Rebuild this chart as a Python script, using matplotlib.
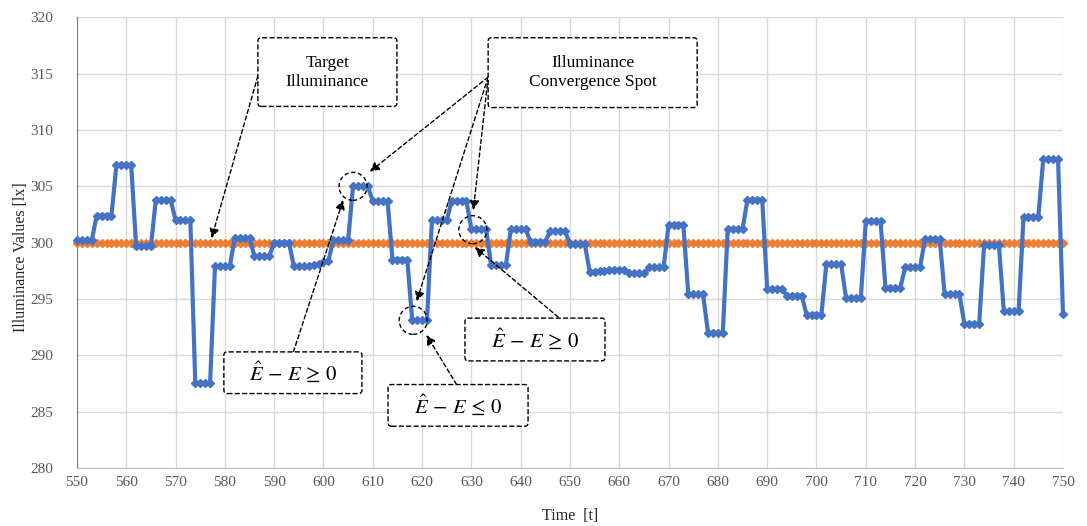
import numpy as np
import matplotlib
matplotlib.use("Agg")
import matplotlib.pyplot as plt
from matplotlib.patches import FancyBboxPatch, Ellipse

# ---------------- data ----------------
time = list(range(550, 751))
measured = [
    300.2, 300.2, 300.2, 300.2,   # 550
    302.4, 302.4, 302.4, 302.4,   # 554
    306.9, 306.9, 306.9, 306.9,   # 558
    299.7, 299.7, 299.7, 299.7,   # 562
    303.8, 303.8, 303.8, 303.8,   # 566
    302.0, 302.0, 302.0, 302.0,   # 570
    287.5, 287.5, 287.5, 287.5,   # 574
    297.9, 297.9, 297.9, 297.9,   # 578
    300.4, 300.4, 300.4, 300.4,   # 582
    298.8, 298.8, 298.8, 298.8,   # 586
    300.0, 300.0, 300.0, 300.0,   # 590
    297.9, 297.9, 297.9, 297.9,   # 594
    298.0, 298.1, 298.3, 298.4,   # 598
    300.2, 300.2, 300.2, 300.2,   # 602
    305.0, 305.0, 305.0, 305.0,   # 606
    303.7, 303.7, 303.7, 303.7,   # 610
    298.5, 298.5, 298.5, 298.5,   # 614
    293.1, 293.1, 293.1, 293.1,   # 618
    302.0, 302.0, 302.0, 302.0,   # 622
    303.7, 303.7, 303.7, 303.7,   # 626
    301.2, 301.2, 301.2, 301.2,   # 630
    298.0, 298.0, 298.0, 298.0,   # 634
    301.2, 301.2, 301.2, 301.2,   # 638
    300.1, 300.1, 300.1, 300.1,   # 642
    301.0, 301.0, 301.0, 301.0,   # 646
    299.9, 299.9, 299.9, 299.9,   # 650
    297.4, 297.4, 297.5, 297.5,   # 654
    297.6, 297.6, 297.6, 297.6,   # 658
    297.3, 297.3, 297.3, 297.3,   # 662
    297.8, 297.8, 297.8, 297.8,   # 666
    301.6, 301.6, 301.6, 301.6,   # 670
    295.4, 295.4, 295.4, 295.4,   # 674
    292.0, 292.0, 292.0, 292.0,   # 678
    301.2, 301.2, 301.2, 301.2,   # 682
    303.8, 303.8, 303.8, 303.8,   # 686
    295.9, 295.9, 295.9, 295.9,   # 690
    295.3, 295.3, 295.3, 295.3,   # 694
    293.6, 293.6, 293.6, 293.6,   # 698
    298.1, 298.1, 298.1, 298.1,   # 702
    295.1, 295.1, 295.1, 295.1,   # 706
    301.9, 301.9, 301.9, 301.9,   # 710
    296.0, 296.0, 296.0, 296.0,   # 714
    297.8, 297.8, 297.8, 297.8,   # 718
    300.3, 300.3, 300.3, 300.3,   # 722
    295.4, 295.4, 295.4, 295.4,   # 726
    292.8, 292.8, 292.8, 292.8,   # 730
    299.8, 299.8, 299.8, 299.8,   # 734
    293.9, 293.9, 293.9, 293.9,   # 738
    302.3, 302.3, 302.3, 302.3,   # 742
    307.4, 307.4, 307.4, 307.4,   # 746
    293.7,                        # 750
]
target = [300.0] * len(time)

x_ticks = list(range(550, 751, 10))
y_ticks = list(range(280, 321, 5))

x_label = "Time  [t]"
y_label = "Illuminance Values [lx]"

# ---------------- style ----------------
plt.rcParams['font.family'] = ['Liberation Serif', 'DejaVu Serif']
plt.rcParams['mathtext.fontset'] = 'stix'

BLUE = '#4472C4'
ORANGE = '#ED7D31'
GRID = '#D9D9D9'
TICK = '#595959'

fig = plt.figure(figsize=(10.87, 5.26), dpi=100)
ax = fig.add_axes([0.0708, 0.1105, 0.9071, 0.8563])

ax.plot(time, target, color=ORANGE, lw=2.4, marker='D', ms=4.5,
        mec=ORANGE, mfc=ORANGE, zorder=3, clip_on=False)
ax.plot(time, measured, color=BLUE, lw=3.0, marker='D', ms=4.3,
        mec=BLUE, mfc=BLUE, zorder=4, clip_on=False)

ax.set_xlim(550, 750)
ax.set_ylim(280, 320)
ax.set_xticks(x_ticks)
ax.set_yticks(y_ticks)
ax.grid(True, color=GRID, lw=1.0, zorder=0)
ax.set_axisbelow(True)
ax.tick_params(axis='both', length=0, labelsize=11, colors=TICK)
ax.tick_params(axis='y', pad=17)
ax.tick_params(axis='x', pad=6)
for s in ['top', 'right']:
    ax.spines[s].set_visible(False)
ax.spines['left'].set_color('#7F7F7F')
ax.spines['bottom'].set_color('#BFBFBF')

ax.set_xlabel(x_label, fontsize=11.5, color='#262626')
ax.set_ylabel(y_label, fontsize=11.5, color='#262626')
ax.xaxis.set_label_coords(0.5, -0.088)
ax.yaxis.set_label_coords(-0.049, 0.467)

# ---------------- annotations ----------------
asp = (986.0 / 200.0) / (450.4 / 40.0)  # px per x-unit / px per y-unit


def box(x0, x1, y0, y1, text, fs=12.5):
    p = FancyBboxPatch((x0, y0), x1 - x0, y1 - y0,
                       boxstyle='round,pad=0,rounding_size=0.7',
                       mutation_aspect=asp, fc='white', ec='black',
                       lw=1.0, ls='--', zorder=6)
    ax.add_patch(p)
    ax.text((x0 + x1) / 2, (y0 + y1) / 2, text, ha='center', va='center',
            fontsize=fs, zorder=7, linespacing=1.25)


def arrow(x0, y0, x1, y1):
    ax.annotate('', xy=(x1, y1), xytext=(x0, y0),
                arrowprops=dict(arrowstyle='-|>', ls=(0, (3, 2)), lw=1.0,
                                color='black', fc='black',
                                mutation_scale=14, shrinkA=0, shrinkB=0),
                zorder=5)


def circle(cx, cy):
    e = Ellipse((cx, cy), 28 / 4.93, 28 / 11.26, fill=False, ec='black',
                lw=1.0, ls=(0, (3, 2)), zorder=5)
    ax.add_patch(e)


# arrows
arrow(586.7, 314.8, 577.3, 300.4)
arrow(633.4, 314.7, 609.4, 306.3)
arrow(633.4, 314.7, 618.9, 294.8)
arrow(633.4, 314.7, 630.4, 302.9)
arrow(593.9, 290.3, 604.0, 303.8)
arrow(627.0, 287.4, 620.9, 291.8)
arrow(647.6, 293.4, 630.7, 299.6)

circle(606.0, 305.0)
circle(618.2, 293.1)
circle(630.3, 301.15)

box(586.7, 614.9, 312.1, 318.2, "Target\nIlluminance")
box(633.4, 675.8, 312.0, 318.2, "Illuminance\nConvergence Spot")
eq_ge = r"$\hat{E}\,-\,E\,\geq\,0$"
eq_le = r"$\hat{E}\,-\,E\,\leq\,0$"
box(579.8, 607.8, 286.6, 290.3, eq_ge, fs=15)
box(613.1, 641.5, 283.7, 287.4, eq_le, fs=15)
box(628.7, 657.1, 289.5, 293.3, eq_ge, fs=15)

fig.savefig('out.png', dpi=100)
